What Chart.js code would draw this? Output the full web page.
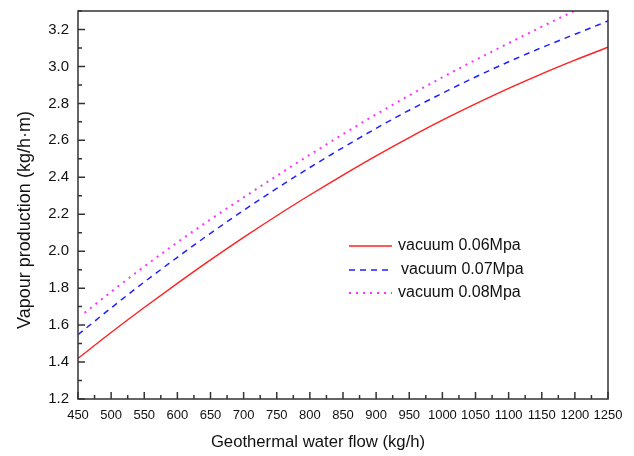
<!DOCTYPE html>
<html>
<head>
<meta charset="utf-8">
<script src="https://cdn.jsdelivr.net/npm/chart.js@4"></script>
<style>
  html, body { margin: 0; padding: 0; background: #fff; }
</style>
</head>
<body>
<canvas id="chart" width="634" height="456"></canvas>
<script>
// values
const flow = [450, 500, 550, 600, 650, 700, 750, 800, 850, 900, 950, 1000, 1050, 1100, 1150, 1200, 1250];
const flow08 = [460, 500, 550, 600, 650, 700, 750, 800, 850, 900, 950, 1000, 1050, 1100, 1150, 1200];
const vac06 = [1.42, 1.56, 1.695, 1.826, 1.953, 2.075, 2.192, 2.304, 2.412, 2.516, 2.615, 2.709, 2.797, 2.881, 2.960, 3.034, 3.104];
const vac07 = [1.548, 1.693, 1.833, 1.967, 2.097, 2.221, 2.340, 2.453, 2.561, 2.665, 2.763, 2.855, 2.943, 3.025, 3.102, 3.174, 3.246];
const vac08 = [1.666, 1.780, 1.917, 2.048, 2.172, 2.291, 2.408, 2.522, 2.633, 2.741, 2.843, 2.941, 3.035, 3.126, 3.215, 3.302];
const seriesNames = ["vacuum 0.06Mpa", "vacuum 0.07Mpa", "vacuum 0.08Mpa"];
const xTicks = [450, 500, 550, 600, 650, 700, 750, 800, 850, 900, 950, 1000, 1050, 1100, 1150, 1200, 1250];
const yTicks = [1.2, 1.4, 1.6, 1.8, 2.0, 2.2, 2.4, 2.6, 2.8, 3.0, 3.2];
const xTitle = "Geothermal water flow (kg/h)";
const yTitle = "Vapour production (kg/h\u00b7m)";

const font = "'Liberation Sans', Arial, sans-serif";

function pts(xs, ys) {
  return xs.map((x, i) => ({ x: x, y: ys[i] }));
}

// frame with inward ticks, axis titles and the legend inside the plot
const framePlugin = {
  id: "frame",
  afterDraw(chart) {
    const ctx = chart.ctx;
    const a = chart.chartArea;
    const xs = chart.scales.x;
    const ys = chart.scales.y;
    ctx.save();
    ctx.strokeStyle = "#333";
    ctx.lineWidth = 1.5;
    ctx.beginPath();
    xTicks.forEach((v, i) => {
      const px = xs.getPixelForValue(v);
      ctx.moveTo(px, a.bottom);
      ctx.lineTo(px, a.bottom - 7);
      if (i < xTicks.length - 1) {
        const mx = xs.getPixelForValue(v + 25);
        ctx.moveTo(mx, a.bottom);
        ctx.lineTo(mx, a.bottom - 4);
      }
    });
    yTicks.forEach((v) => {
      const py = ys.getPixelForValue(v);
      ctx.moveTo(a.left, py);
      ctx.lineTo(a.left + 7, py);
      const my = ys.getPixelForValue(v + 0.1);
      ctx.moveTo(a.left, my);
      ctx.lineTo(a.left + 4, my);
    });
    ctx.stroke();
    ctx.strokeRect(a.left, a.top, a.right - a.left, a.bottom - a.top);

    // axis titles
    ctx.fillStyle = "#111";
    ctx.textAlign = "center";
    ctx.textBaseline = "middle";
    ctx.font = "16.7px " + font;
    ctx.fillText(xTitle, 318, 442);
    ctx.save();
    ctx.translate(25, 220);
    ctx.rotate(-Math.PI / 2);
    ctx.font = "18px " + font;
    ctx.fillText(yTitle, 0, 0);
    ctx.restore();

    // legend
    const rows = [246, 270, 293];
    ctx.font = "16px " + font;
    ctx.textAlign = "left";
    chart.data.datasets.forEach((ds, i) => {
      ctx.beginPath();
      ctx.strokeStyle = ds.borderColor;
      ctx.lineWidth = ds.borderWidth;
      ctx.setLineDash(ds.borderDash || []);
      ctx.moveTo(349, rows[i]);
      ctx.lineTo(392, rows[i]);
      ctx.stroke();
      ctx.fillText(ds.label, i === 1 ? 401 : 398, rows[i]);
    });
    ctx.restore();
  }
};

new Chart(document.getElementById("chart"), {
  type: "line",
  data: {
    datasets: [
      {
        label: seriesNames[0],
        data: pts(flow, vac06),
        borderColor: "#ff2020",
        borderWidth: 1.4,
        pointRadius: 0,
        cubicInterpolationMode: "monotone"
      },
      {
        label: seriesNames[1],
        data: pts(flow, vac07),
        borderColor: "#2020ff",
        borderWidth: 1.5,
        borderDash: [6, 5],
        pointRadius: 0,
        cubicInterpolationMode: "monotone"
      },
      {
        label: seriesNames[2],
        data: pts(flow08, vac08),
        borderColor: "#ff30ff",
        borderWidth: 2,
        borderDash: [2, 5],
        pointRadius: 0,
        cubicInterpolationMode: "monotone"
      }
    ]
  },
  options: {
    responsive: false,
    animation: false,
    layout: { padding: { top: 11, right: 26, left: 0, bottom: 0 } },
    plugins: {
      legend: { display: false },
      tooltip: { enabled: false }
    },
    scales: {
      x: {
        type: "linear",
        min: 450,
        max: 1250,
        afterBuildTicks: (s) => { s.ticks = xTicks.map((v) => ({ value: v })); },
        afterFit: (s) => { s.height = 57; s.paddingLeft = 0; s.paddingRight = 0; },
        grid: { display: false, drawTicks: false },
        border: { display: false },
        ticks: {
          autoSkip: false,
          maxRotation: 0,
          padding: 9,
          color: "#111",
          font: { family: font, size: 13 },
          callback: (v) => String(v)
        }
      },
      y: {
        min: 1.2,
        max: 3.3,
        afterBuildTicks: (s) => { s.ticks = yTicks.map((v) => ({ value: v })); },
        afterFit: (s) => { s.width = 78; s.paddingTop = 0; s.paddingBottom = 0; },
        grid: { display: false, drawTicks: false },
        border: { display: false },
        ticks: {
          padding: 9,
          color: "#111",
          font: { family: font, size: 15 },
          callback: (v) => Number(v).toFixed(1)
        }
      }
    }
  },
  plugins: [framePlugin]
});
</script>
</body>
</html>
